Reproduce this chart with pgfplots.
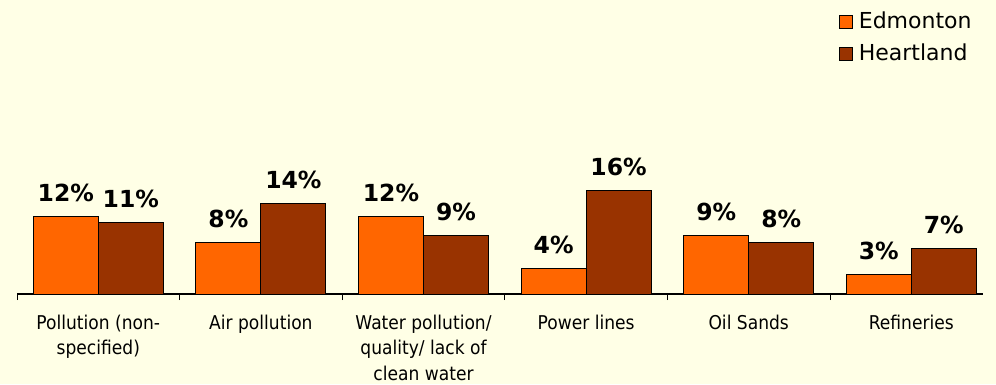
\documentclass[border=0pt]{standalone}
\usepackage{fontspec}
\setmainfont{DejaVu Sans}
\newfontfamily\narrowsans[FakeStretch=0.9]{DejaVu Sans}
\usepackage{pgfplots}
\pgfplotsset{compat=1.18}

\definecolor{bg}{HTML}{FFFFE6}
\definecolor{edm}{HTML}{FF6600}
\definecolor{hrt}{HTML}{993300}

\newcommand\lbl[1]{\begin{tabular}[t]{@{}c@{}}#1\end{tabular}}

\pgfplotsset{
  sq legend/.style={legend image code/.code={%
    \draw[##1,draw=black,line width=0.8pt] (0pt,0pt) rectangle (13pt,13pt);}},
}

\begin{document}
\begin{tikzpicture}[x=1pt,y=1pt]
\fill[bg] (0,0) rectangle (996,384);
\begin{axis}[
  at={(17pt,90pt)}, anchor=south west,
  scale only axis, width=966pt, height=294pt,
  xmin=-0.5, xmax=5.441, ymin=0, ymax=45.5,
  axis x line*=bottom, axis y line=none,
  x axis line style={black, line width=1.2pt},
  clip=false,
  ybar=0pt, bar width=65pt,
  xtick={0,1,2,3,4,5},
  xticklabels={
    {\lbl{Pollution (non-\\specified)}},
    {\lbl{Air pollution}},
    {\lbl{Water pollution/\\quality/ lack of\\clean water}},
    {\lbl{Power lines}},
    {\lbl{Oil Sands}},
    {\lbl{Refineries}}},
  major tick length=0pt,
  xtick align=outside,
  extra x ticks={-0.5,0.5,1.5,2.5,3.5,4.5},
  extra x tick labels={},
  extra x tick style={major tick length=6pt, tick style={black, line width=1pt}},
  xticklabel style={font=\narrowsans\fontsize{19}{25.5}\selectfont, anchor=base, yshift=-35pt},
  /pgf/number format/assume math mode=true,
  nodes near coords={\pgfmathprintnumber{\pgfplotspointmeta}\%},
  every node near coord/.append style={font=\fontsize{23.5}{28}\selectfont\bfseries,
    anchor=base, yshift=15pt, black},
  legend style={at={(axis description cs:0.851,0.959)}, anchor=north west,
    draw=none, fill=none, inner sep=0pt, outer sep=0pt,
    row sep=16pt, column sep=6pt,
    font=\fontsize{22}{26}\selectfont,
    nodes={inner sep=0pt, text height=16pt, text depth=0pt, anchor=base west}},
  legend cell align=left,
]
\addplot[fill=edm, draw=black, line width=0.9pt, sq legend]
  coordinates {(0,12) (1,8) (2,12) (3,4) (4,9) (5,3)};
\addplot[fill=hrt, draw=black, line width=0.9pt, sq legend]
  coordinates {(0,11) (1,14) (2,9) (3,16) (4,8) (5,7)};
\legend{Edmonton, Heartland}
\end{axis}
\pgfresetboundingbox
\path[use as bounding box] (0,0) rectangle (996,384);
\end{tikzpicture}
\end{document}
